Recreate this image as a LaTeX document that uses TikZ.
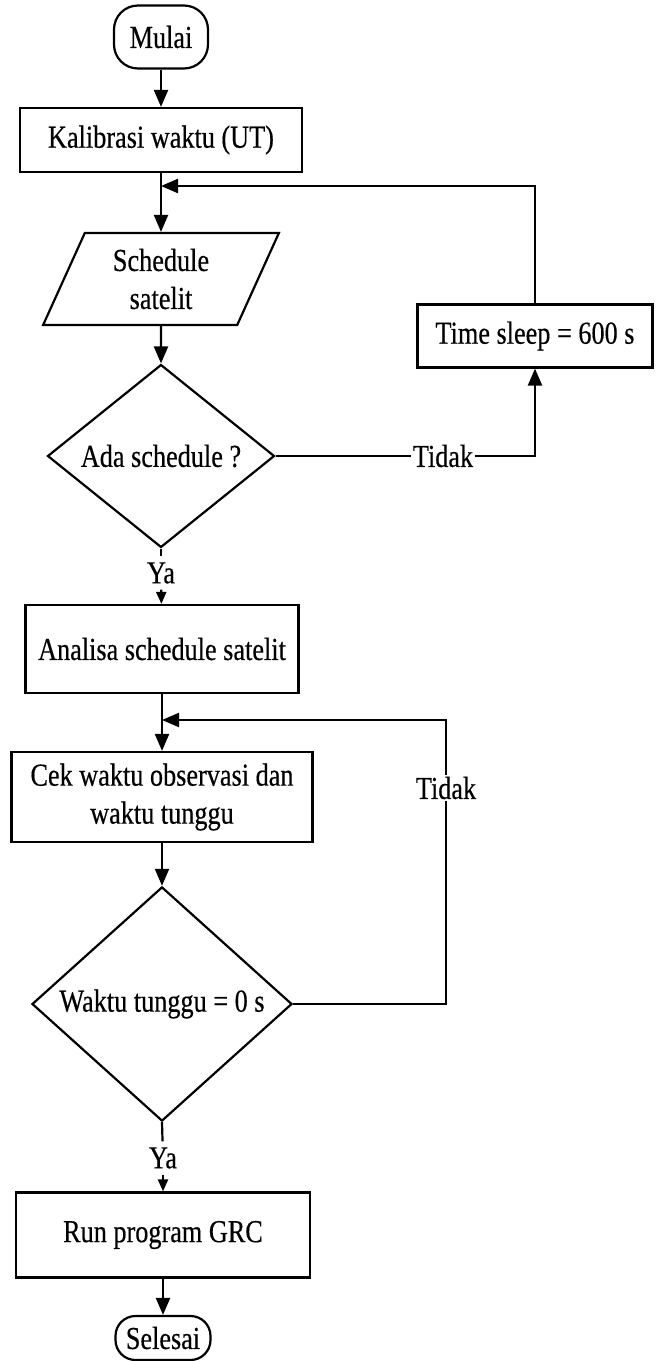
\documentclass[tikz,border=0pt]{standalone}
\usepackage{fontspec}
\setmainfont{Liberation Serif}[FakeStretch=0.82,FakeBold=0.4]
\usetikzlibrary{shapes.geometric,arrows.meta}
\begin{document}
\begin{tikzpicture}[x=1pt,y=-1pt, line width=2.2pt,
  every node/.style={font=\fontsize{32}{38}\selectfont, line width=2.2pt},
  box/.style={draw, rectangle, inner sep=0pt, align=center},
  term/.style={draw, rectangle, rounded corners=24pt, inner sep=0pt},
  dec/.style={draw, diamond, inner sep=0pt, align=center},
  io/.style={draw, trapezium, trapezium left angle=66.5, trapezium right angle=113.5, trapezium stretches=true, inner sep=0pt, align=center},
  arr/.style={-{Triangle[length=17pt,width=14pt]}},
  sarr/.style={-{Triangle[length=12pt,width=10pt]}},
  lbl/.style={fill=white, inner sep=1pt},
  yalbl/.style={fill=white, inner xsep=1pt, inner ysep=5pt},
]
\useasboundingbox (0,0) rectangle (660,1361);
\node[term, minimum width=94pt, minimum height=63pt] (mulai) at (161,37) {Mulai};
\node[box, minimum width=282pt, minimum height=64pt] (kal) at (161,140) {Kalibrasi waktu (UT)};
\coordinate (j1) at (161,186);
\node[io, minimum width=236pt, minimum height=92pt] (sched) at (161,279) {Schedule\\satelit};
\node[dec, minimum width=227pt, minimum height=165pt] (ada) at (161,456) {Ada schedule ?};
\node[box, minimum width=235pt, minimum height=63pt] (sleep) at (535,336) {Time sleep = 600 s};
\node[lbl] (t1) at (443,456) {Tidak};
\node[yalbl] (ya1) at (161,573) {Ya};
\node[box, minimum width=273pt, minimum height=88pt] (anal) at (162,649) {Analisa schedule satelit};
\coordinate (j2) at (162,720);
\node[box, minimum width=301pt, minimum height=90pt] (cek) at (162,797) {Cek waktu observasi dan\\waktu tunggu};
\node[dec, minimum width=260pt, minimum height=228pt] (wt) at (162,1004) {Waktu tunggu = 0 s};
\node[lbl] (t2) at (446,788) {Tidak};
\node[yalbl] (ya2) at (163,1158) {Ya};
\node[box, minimum width=294pt, minimum height=85pt] (run) at (163,1235) {Run program GRC};
\node[term, minimum width=95pt, minimum height=44pt, rounded corners=20pt] (sel) at (163,1338) {Selesai};

\draw[arr] (mulai) -- (kal);
\draw (kal) -- (j1);
\draw[arr] (j1) -- (sched);
\draw[arr] (sleep.north) |- (j1);
\draw[arr] (sched) -- (ada);
\draw (ada.east) -- (t1);
\draw[arr] (t1) -| (sleep.south);
\draw (ada.south) -- (ya1);
\draw[sarr] (ya1) -- (anal);
\draw (anal) -- (j2);
\draw[arr] (j2) -- (cek);
\draw[arr] (cek) -- (wt);
\draw (wt.east) -| (t2);
\draw[arr] (t2) |- (j2);
\draw (wt.south) -- (ya2);
\draw[sarr] (ya2) -- (run);
\draw[arr] (run) -- (sel);
\end{tikzpicture}
\end{document}
